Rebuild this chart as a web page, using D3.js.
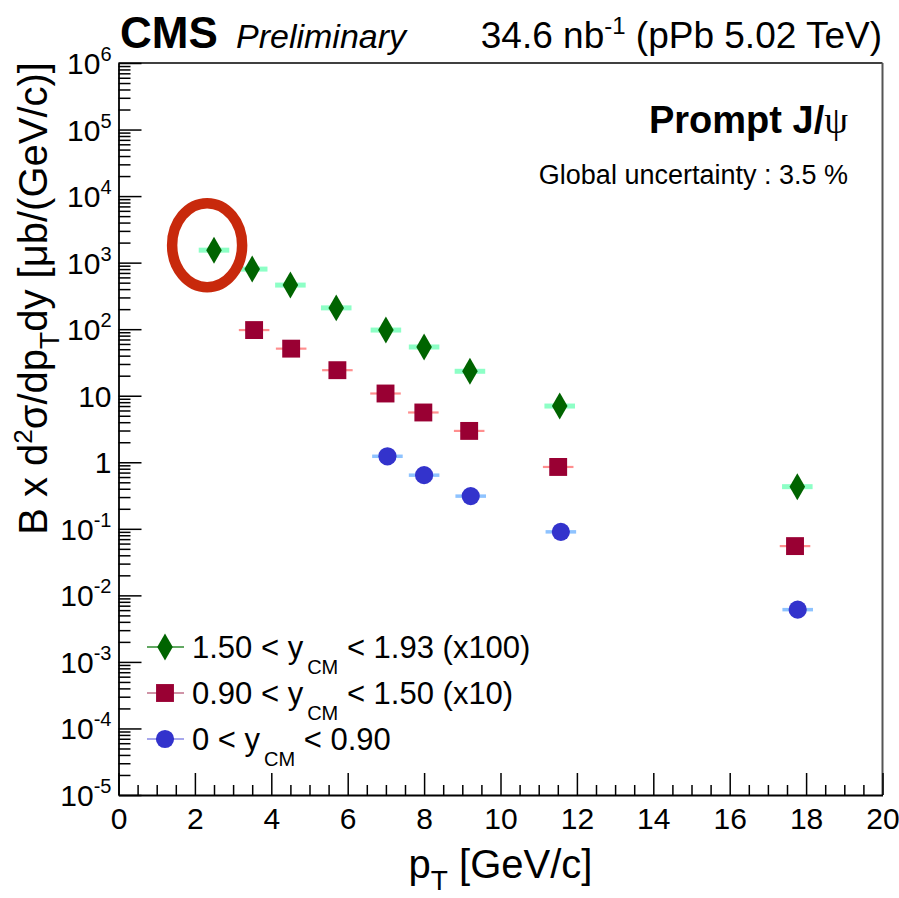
<!DOCTYPE html>
<html>
<head>
<meta charset="utf-8">
<script src="https://cdn.jsdelivr.net/npm/d3@7"></script>
<style>
  body { margin: 0; background: #fff; }
  svg { font-family: "Liberation Sans", Arial, Helvetica, sans-serif; }
</style>
</head>
<body>
<div id="chart"></div>
<script>
// values (cross section x scale factor)
const ptHigh = [2.5, 3.5, 4.5, 5.7, 7.0, 8.0, 9.2, 11.55, 17.77];
const xsHigh = [1540, 800, 460, 209, 97, 54, 23.3, 7.0, 0.43];
const ptMid = [3.55, 4.52, 5.73, 6.99, 7.98, 9.18, 11.51, 17.71];
const xsMid = [97, 51, 24.2, 10.8, 5.6, 2.96, 0.85, 0.055];
const ptLow = [7.04, 8.0, 9.22, 11.58, 17.78];
const xsLow = [1.23, 0.64, 0.31, 0.09, 0.0061];
const ptErr = 0.4;

const legendLabels = [
  ['1.50 < y', 'CM', ' < 1.93 (x100)'],
  ['0.90 < y', 'CM', ' < 1.50 (x10)'],
  ['0 < y', 'CM', ' < 0.90']
];
const xTicks = [0, 2, 4, 6, 8, 10, 12, 14, 16, 18, 20];
const yDecades = [-5, -4, -3, -2, -1, 0, 1, 2, 3, 4, 5, 6];
// circled point (annotation), in data units
const markPt = 2.32, markXs = 1830;

const width = 899, height = 898;
const pLeft = 118.5, pRight = 882.5, pTop = 63, pBottom = 795;

const x = d3.scaleLinear().domain([0, 20]).range([pLeft, pRight]);
const y = d3.scaleLog().domain([1e-5, 1e6]).range([pBottom, pTop]);

const series = [
  { pt: ptHigh, v: xsHigh, sym: d3.symbolDiamond, size: 210, fill: '#006400', bar: '#8dffc6', barW: 5, legLine: '#2e8b2e' },
  { pt: ptMid, v: xsMid, sym: d3.symbolSquare, size: 320, fill: '#990033', bar: '#ff8f8f', barW: 2.2, legLine: '#c0708a' },
  { pt: ptLow, v: xsLow, sym: d3.symbolCircle, size: 260, fill: '#3333cc', bar: '#8ec3ff', barW: 3.5, legLine: '#8a8ae6' }
];

const svg = d3.select('#chart').append('svg')
  .attr('width', width)
  .attr('height', height);

svg.append('rect').attr('width', width).attr('height', height).attr('fill', '#fff');

// frame
svg.append('line').attr('x1', pLeft).attr('x2', pRight).attr('y1', pTop).attr('y2', pTop)
  .attr('stroke', '#000').attr('stroke-width', 1.5);
svg.append('line').attr('x1', pRight).attr('x2', pRight).attr('y1', pTop).attr('y2', pBottom)
  .attr('stroke', '#555').attr('stroke-width', 2);

// x axis, major + minor ticks pointing inward
const xMinor = d3.range(0, 20.01, 0.5).filter(d => d % 2 !== 0);
svg.append('g')
  .attr('transform', `translate(0,${pBottom})`)
  .call(d3.axisBottom(x).tickValues(xMinor).tickSize(-10).tickFormat(''))
  .call(g => g.select('.domain').remove())
  .call(g => g.selectAll('line').attr('stroke-width', 1.5));

const xAxis = svg.append('g')
  .attr('transform', `translate(0,${pBottom})`)
  .call(d3.axisBottom(x).tickValues(xTicks).tickSize(-22).tickSizeOuter(0).tickPadding(13).tickFormat(d3.format('d')));
xAxis.select('.domain').attr('stroke-width', 1.8);
xAxis.selectAll('line').attr('stroke-width', 1.5);
xAxis.selectAll('text').attr('font-size', 30).attr('fill', '#000').attr('dy', '0.71em');

// y axis
const yMinor = [];
yDecades.slice(0, -1).forEach(e => { for (let k = 2; k <= 9; k++) yMinor.push(k * Math.pow(10, e)); });
svg.append('g')
  .attr('transform', `translate(${pLeft},0)`)
  .call(d3.axisLeft(y).tickValues(yMinor).tickSize(-12).tickFormat(''))
  .call(g => g.select('.domain').remove())
  .call(g => g.selectAll('line').attr('stroke-width', 1.5));

const yAxis = svg.append('g')
  .attr('transform', `translate(${pLeft},0)`)
  .call(d3.axisLeft(y).tickValues(yDecades.map(e => Math.pow(10, e))).tickSize(-23).tickSizeOuter(0).tickFormat(''));
yAxis.select('.domain').attr('stroke-width', 1.8);
yAxis.selectAll('line').attr('stroke-width', 1.5);

const yLab = svg.append('g').selectAll('text')
  .data(yDecades)
  .join('text')
  .attr('x', pLeft - 7)
  .attr('y', e => y(Math.pow(10, e)) + 11)
  .attr('text-anchor', 'end')
  .attr('font-size', 30);
yLab.each(function(e) {
  const t = d3.select(this);
  if (e === 0) t.text('1');
  else if (e === 1) t.text('10');
  else {
    t.append('tspan').text('10');
    t.append('tspan').attr('font-size', 20).attr('dy', -13).text(e);
  }
});

// axis titles
const xt = svg.append('text')
  .attr('x', (pLeft + pRight) / 2)
  .attr('y', 878)
  .attr('text-anchor', 'middle')
  .attr('font-size', 40);
xt.append('tspan').text('p');
xt.append('tspan').attr('font-size', 28).attr('dy', 12).text('T');
xt.append('tspan').attr('dy', -12).text(' [GeV/c]');

const yt = svg.append('text')
  .attr('transform', `translate(47,62) rotate(-90)`)
  .attr('text-anchor', 'end')
  .attr('font-size', 40);
yt.append('tspan').text('B x d');
yt.append('tspan').attr('font-size', 26).attr('dy', -15).text('2');
yt.append('tspan').attr('dy', 15).text('σ/dp');
yt.append('tspan').attr('font-size', 28).attr('dy', 12).text('T');
yt.append('tspan').attr('dy', -12).text('dy [μb/(GeV/c)]');

// data: x error bars then markers
series.forEach(s => {
  const pts = s.pt.map((p, i) => ({ p, v: s.v[i] }));
  svg.append('g').selectAll('line')
    .data(pts)
    .join('line')
    .attr('x1', d => x(d.p - ptErr))
    .attr('x2', d => x(d.p + ptErr))
    .attr('y1', d => y(d.v))
    .attr('y2', d => y(d.v))
    .attr('stroke', s.bar)
    .attr('stroke-width', s.barW);
  svg.append('g').selectAll('path')
    .data(pts)
    .join('path')
    .attr('transform', d => `translate(${x(d.p)},${y(d.v)})`)
    .attr('d', d3.symbol().type(s.sym).size(s.size))
    .attr('fill', s.fill);
});

// circled point
svg.append('ellipse')
  .attr('cx', x(markPt))
  .attr('cy', y(markXs))
  .attr('rx', 35)
  .attr('ry', 42)
  .attr('fill', 'none')
  .attr('stroke', '#c8290c')
  .attr('stroke-width', 10.5);

// legend
const legY = [647, 693, 739];
series.forEach((s, i) => {
  const g = svg.append('g').attr('transform', `translate(165,${legY[i]})`);
  g.append('line').attr('x1', -18).attr('x2', 19).attr('stroke', s.legLine).attr('stroke-width', 1.5);
  g.append('path').attr('d', d3.symbol().type(s.sym).size(s.size)).attr('fill', s.fill);
  const t = g.append('text').attr('x', 27).attr('y', 11).attr('font-size', 31);
  t.append('tspan').text(legendLabels[i][0]);
  t.append('tspan').attr('font-size', 20).attr('dx', 4).attr('dy', 16).text(legendLabels[i][1]);
  t.append('tspan').attr('dy', -16).text(legendLabels[i][2]);
});

// header texts
svg.append('text').attr('x', 120).attr('y', 48)
  .attr('font-size', 44).attr('font-weight', 'bold').text('CMS');
svg.append('text').attr('x', 236).attr('y', 48)
  .attr('font-size', 34).attr('font-style', 'italic').text('Preliminary');
const lumi = svg.append('text').attr('x', 882).attr('y', 48)
  .attr('text-anchor', 'end').attr('font-size', 37);
lumi.append('tspan').text('34.6 nb');
lumi.append('tspan').attr('font-size', 24).attr('dy', -14).text('-1');
lumi.append('tspan').attr('dy', 14).text(' (pPb 5.02 TeV)');

const pr = svg.append('text').attr('x', 848).attr('y', 133)
  .attr('text-anchor', 'end').attr('font-size', 38).attr('font-weight', 'bold');
pr.append('tspan').text('Prompt J/');
pr.append('tspan').attr('font-family', '"Liberation Serif", "DejaVu Serif", serif')
  .attr('font-weight', 'normal').text('ψ');

svg.append('text').attr('x', 848).attr('y', 184)
  .attr('text-anchor', 'end').attr('font-size', 27)
  .text('Global uncertainty : 3.5 %');
</script>
</body>
</html>
